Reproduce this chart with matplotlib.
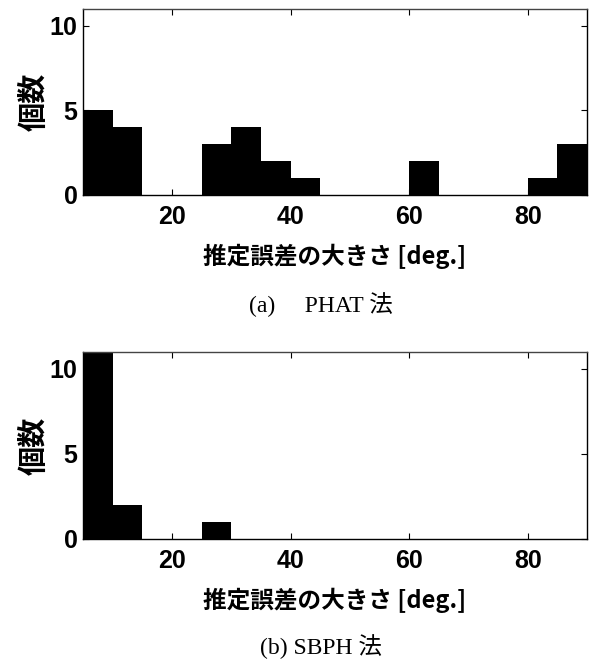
import numpy as np
import matplotlib
matplotlib.use("Agg")
import matplotlib.pyplot as plt

# histogram data (bin width 5 deg, 5..90)
bin_left = [5, 10, 15, 20, 25, 30, 35, 40, 45, 50, 55, 60, 65, 70, 75, 80, 85]
phat_counts = [5, 4, 0, 0, 3, 4, 2, 1, 0, 0, 0, 2, 0, 0, 0, 1, 3]
sbph_counts = [11, 2, 0, 0, 1, 0, 0, 0, 0, 0, 0, 0, 0, 0, 0, 0, 0]
xticks = [20, 40, 60, 80]
yticks = [0, 5, 10]
xlabel = "推定誤差の大きさ [deg.]"
ylabel = "個数"
captions = ["(a)\u3000 PHAT 法", "(b) SBPH 法"]

cjk = ["Noto Sans CJK JP", "DejaVu Sans"]
serif = ["Liberation Serif", "Noto Sans CJK JP"]

fig = plt.figure(figsize=(5.92, 6.61), dpi=100)
ax1 = fig.add_axes([0.1402, 0.705, 0.8514, 0.2814])
ax2 = fig.add_axes([0.1402, 0.1846, 0.8514, 0.283])

for ax, counts in [(ax1, phat_counts), (ax2, sbph_counts)]:
    ax.bar(bin_left, counts, width=5, align="edge", color="black",
           edgecolor="none", linewidth=0)
    ax.set_xlim(5, 90)
    ax.set_ylim(0, 11)
    ax.set_xticks(xticks)
    ax.set_yticks(yticks)
    ax.tick_params(direction="in", length=4, width=0.8, top=True, right=True)
    ax.tick_params(axis="x", pad=7)
    ax.tick_params(axis="y", pad=4)
    for lab in ax.get_xticklabels() + ax.get_yticklabels():
        lab.set_family("Liberation Sans")
        lab.set_fontweight("bold")
        lab.set_fontsize(18)
    for s in ax.spines.values():
        s.set_linewidth(1.0)
    ax.spines["top"].set_color("#444444")
    ax.set_xlabel(xlabel, family=cjk, fontweight="bold", fontsize=17, labelpad=11)
    ax.set_ylabel(ylabel, family=cjk, fontweight="bold", fontsize=21, labelpad=1)

fig.text(321 / 592, 1 - 305 / 661, captions[0], family=serif, fontsize=17,
         ha="center", va="center")
fig.text(321 / 592, 1 - 647 / 661, captions[1], family=serif, fontsize=17,
         ha="center", va="center")

fig.savefig("out.png", dpi=100)
